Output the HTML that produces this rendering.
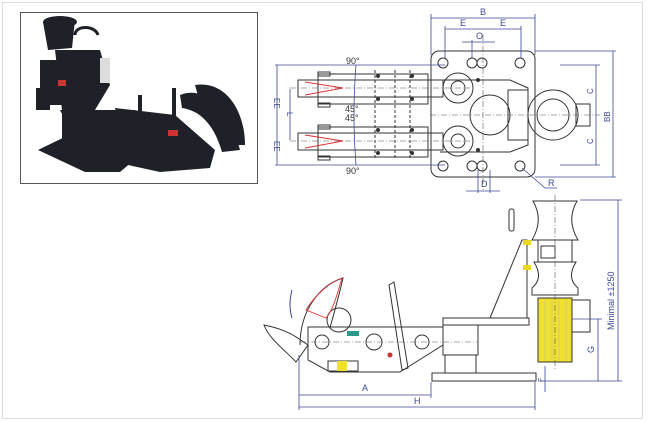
<!DOCTYPE html>
<html><head><meta charset="utf-8"><style>
html,body{margin:0;padding:0;background:#fff}
svg{display:block}
text{font-family:"Liberation Sans",sans-serif}
</style></head><body>
<svg width="649" height="422" viewBox="0 0 649 422" xmlns="http://www.w3.org/2000/svg">
<rect x="2.5" y="2.5" width="640" height="416" fill="none" stroke="#ddd"/>
<!-- photo -->
<rect x="20.5" y="12.5" width="237" height="171" fill="#fff" stroke="#555"/>
<g fill="#1e2228">
<path d="M38 150 L75 132 L105 140 L140 155 L120 172 L85 172 Z"/>
<rect x="62" y="100" width="25" height="58"/>
<rect x="40" y="60" width="22" height="45"/>
<rect x="36" y="88" width="14" height="22"/>
<path d="M55 50 L100 50 L110 85 L95 110 L62 110 Z"/>
<path d="M43 22 L75 20 L72 48 L48 50 Z"/>
<ellipse cx="60" cy="22" rx="17" ry="6"/>
<path d="M60 110 L135 110 L140 160 L115 168 L85 158 Z"/>
<path d="M115 108 L175 115 L215 150 L210 168 L160 172 L128 165 Z"/>
<path d="M180 95 C205 85 230 110 240 150 L222 152 C212 118 195 110 182 108 Z"/>
<path d="M195 85 C225 80 245 110 245 145 L232 145 C228 112 210 100 198 96 Z"/>
<rect x="172" y="88" width="4" height="28"/>
<rect x="138" y="95" width="4" height="30"/>
</g>
<path d="M75 35 C75 25 95 25 98 35" fill="none" stroke="#1e2228" stroke-width="3"/>
<rect x="58" y="80" width="8" height="6" fill="#c33"/>
<rect x="168" y="130" width="10" height="6" fill="#c33"/>
<rect x="100" y="58" width="10" height="25" fill="#ddd"/>
<!-- ===== TOP VIEW ===== -->
<g fill="none" stroke="#333" stroke-width="1">
<rect x="431" y="51" width="104" height="126" rx="8"/>
<circle cx="443" cy="63" r="5"/><circle cx="472" cy="63" r="5"/><circle cx="482" cy="63" r="5"/><circle cx="520" cy="63" r="5"/>
<circle cx="443" cy="166" r="5"/><circle cx="472" cy="166" r="5"/><circle cx="482" cy="166" r="5"/><circle cx="520" cy="166" r="5"/>
<rect x="298" y="80" width="145" height="17"/>
<rect x="298" y="133" width="145" height="17"/>
<rect x="318" y="74" width="110" height="30"/>
<rect x="318" y="127" width="110" height="30"/>
<rect x="318" y="72" width="12" height="4"/><rect x="318" y="103" width="12" height="4"/>
<rect x="318" y="125" width="12" height="4"/><rect x="318" y="156" width="12" height="4"/>
<path d="M440 80 L510 80 L528 88 L528 145 L510 152 L440 152"/>
<circle cx="458" cy="88" r="15"/><circle cx="458" cy="88" r="7"/>
<circle cx="458" cy="141" r="15"/><circle cx="458" cy="141" r="7"/>
<circle cx="490" cy="115" r="20"/>
<rect x="508" y="90" width="20" height="50"/>
<circle cx="553" cy="115" r="25"/><circle cx="553" cy="115" r="16"/>
<rect x="576" y="104" width="14" height="22"/>
<line x1="375" y1="70" x2="375" y2="160" stroke-dasharray="3,2"/>
<line x1="395" y1="70" x2="395" y2="160" stroke-dasharray="3,2"/>
<line x1="410" y1="70" x2="410" y2="160" stroke-dasharray="3,2"/>
</g>
<g fill="none" stroke="#d33" stroke-width="0.9">
<path d="M305 82 L343 88 L305 95"/><path d="M305 135 L343 141 L305 148"/>
</g>
<g fill="#333">
<circle cx="378" cy="76" r="2"/><circle cx="412" cy="76" r="2"/><circle cx="378" cy="99" r="2"/><circle cx="412" cy="99" r="2"/>
<circle cx="378" cy="130" r="2"/><circle cx="412" cy="130" r="2"/><circle cx="378" cy="153" r="2"/><circle cx="412" cy="153" r="2"/>
<circle cx="478" cy="80" r="2"/><circle cx="478" cy="150" r="2"/>
</g>
<g stroke="#555" stroke-width="0.6" stroke-dasharray="6,2,1,2">
<line x1="290" y1="88" x2="470" y2="88"/><line x1="290" y1="141" x2="470" y2="141"/>
<line x1="430" y1="115" x2="600" y2="115"/>
<line x1="483" y1="35" x2="483" y2="190"/>
</g>
<g stroke="#3b4796" stroke-width="0.8" fill="none">
<line x1="431" y1="18" x2="535" y2="18"/><line x1="431" y1="14" x2="431" y2="55"/><line x1="535" y1="14" x2="535" y2="55"/>
<line x1="445" y1="29" x2="521" y2="29"/><line x1="445" y1="26" x2="445" y2="58"/><line x1="521" y1="26" x2="521" y2="58"/>
<line x1="462" y1="42" x2="495" y2="42"/><line x1="472" y1="40" x2="472" y2="58"/>
<line x1="275" y1="65" x2="445" y2="65"/><line x1="275" y1="165" x2="445" y2="165"/>
<line x1="277" y1="65" x2="277" y2="165"/><line x1="290" y1="89" x2="290" y2="140"/>
<line x1="535" y1="51" x2="616" y2="51"/><line x1="535" y1="177" x2="616" y2="177"/>
<line x1="560" y1="65" x2="600" y2="65"/><line x1="560" y1="165" x2="600" y2="165"/>
<line x1="596" y1="65" x2="596" y2="165"/><line x1="613" y1="51" x2="613" y2="177"/>
<line x1="466" y1="191" x2="500" y2="191"/><line x1="478" y1="170" x2="478" y2="193"/><line x1="490" y1="170" x2="490" y2="193"/>
<path d="M522 168 L545 188 L557 188"/>
<path d="M356 65 Q352 115 356 165"/>
</g>
<g fill="#3b4796" font-size="9">
<text x="480" y="15">B</text><text x="460" y="26">E</text><text x="500" y="26">E</text><text x="476" y="39">O</text>
<text x="481" y="187">D</text><text x="548" y="186">R</text>
<text x="346" y="64" fill="#333">90°</text><text x="346" y="174" fill="#333">90°</text>
<text x="345" y="112" fill="#333">45°</text><text x="345" y="121" fill="#333">45°</text>
<text transform="translate(274,98) rotate(90)" font-size="8">EE</text>
<text transform="translate(274,141) rotate(90)" font-size="8">EE</text>
<text transform="translate(287,112) rotate(90)" font-size="8">L</text>
<text transform="translate(593,94) rotate(-90)" font-size="8">C</text>
<text transform="translate(593,144) rotate(-90)" font-size="8">C</text>
<text transform="translate(610,122) rotate(-90)" font-size="8">BB</text>
</g>
<!-- ===== SIDE VIEW ===== -->
<g fill="none" stroke="#333" stroke-width="1">
<path d="M533 201 L577 201 Q566 220 578 240 L532 240 Q544 220 533 201 Z"/>
<rect x="538" y="240" width="34" height="22"/>
<rect x="541" y="246" width="14" height="12"/>
<path d="M534 262 L576 262 Q566 278 578 288 L578 295 L532 295 L532 288 Q544 278 534 262 Z"/>
<rect x="572" y="300" width="18" height="32"/>
<rect x="443" y="318" width="86" height="7"/>
<rect x="443" y="325" width="35" height="30"/>
<rect x="445" y="355" width="31" height="18"/>
<rect x="432" y="373" width="104" height="8"/>
<path d="M490 318 L522 240 L527 240 L527 318"/>
<rect x="509" y="209" width="5" height="22" rx="2"/>
<path d="M308 327 L443 327 L443 345 L400 372 L330 372 L308 360 Z"/>
<rect x="328" y="361" width="30" height="10"/>
<circle cx="322" cy="342" r="7"/><circle cx="374" cy="342" r="8"/><circle cx="422" cy="342" r="7"/>
<path d="M389 285 L394 282 L408 368 L402 370 Z"/>
<path d="M264 325 C290 330 300 340 308 345 L296 362 C285 350 270 340 264 325 Z"/>
<path d="M300 345 C300 310 320 285 343 278 C338 300 332 320 330 328"/>
<circle cx="339" cy="320" r="12"/>
<path d="M292 290 Q288 305 292 318" stroke="#3b4796"/>
</g>
<path d="M306 310 C315 295 330 282 342 278 C337 295 333 310 326 318 Z" fill="none" stroke="#d33" stroke-width="0.9"/>
<rect x="538" y="298" width="34" height="64" fill="#f0e030" stroke="#333" stroke-width="1"/>
<g stroke="#bba" stroke-width="0.6"><line x1="545" y1="300" x2="545" y2="360"/><line x1="552" y1="300" x2="552" y2="360"/><line x1="559" y1="300" x2="559" y2="360"/><line x1="566" y1="300" x2="566" y2="360"/></g>
<rect x="337" y="361" width="10" height="10" fill="#f0e030"/>
<rect x="347" y="331" width="12" height="5" fill="#2a9a8a"/>
<rect x="523" y="240" width="8" height="5" fill="#e8d820"/><rect x="523" y="265" width="8" height="5" fill="#e8d820"/>
<circle cx="390" cy="355" r="2.5" fill="#c33"/>
<g stroke="#555" stroke-width="0.6" stroke-dasharray="6,2,1,2">
<line x1="300" y1="342" x2="478" y2="342"/><line x1="555" y1="195" x2="555" y2="370"/>
</g>
<g stroke="#3b4796" stroke-width="0.8" fill="none">
<line x1="299" y1="395" x2="431" y2="395"/><line x1="299" y1="407" x2="535" y2="407"/>
<line x1="299" y1="355" x2="299" y2="410"/><line x1="431" y1="382" x2="431" y2="398"/><line x1="535" y1="382" x2="535" y2="410"/>
<line x1="580" y1="200" x2="622" y2="200"/><line x1="540" y1="381" x2="622" y2="381"/>
<line x1="572" y1="319" x2="602" y2="319"/>
<line x1="618" y1="200" x2="618" y2="381"/><line x1="598" y1="319" x2="598" y2="381"/>
<line x1="545" y1="366" x2="545" y2="392"/>
</g>
<g fill="#3b4796" font-size="9">
<text x="362" y="391">A</text><text x="414" y="404">H</text>
<text transform="translate(594,353) rotate(-90)">G</text>
<text transform="translate(543,382) rotate(-90)" font-size="7">F</text>
<text transform="translate(614,330) rotate(-90)" font-size="9">Minimal  ±1250</text>
</g>
</svg>
</body></html>
